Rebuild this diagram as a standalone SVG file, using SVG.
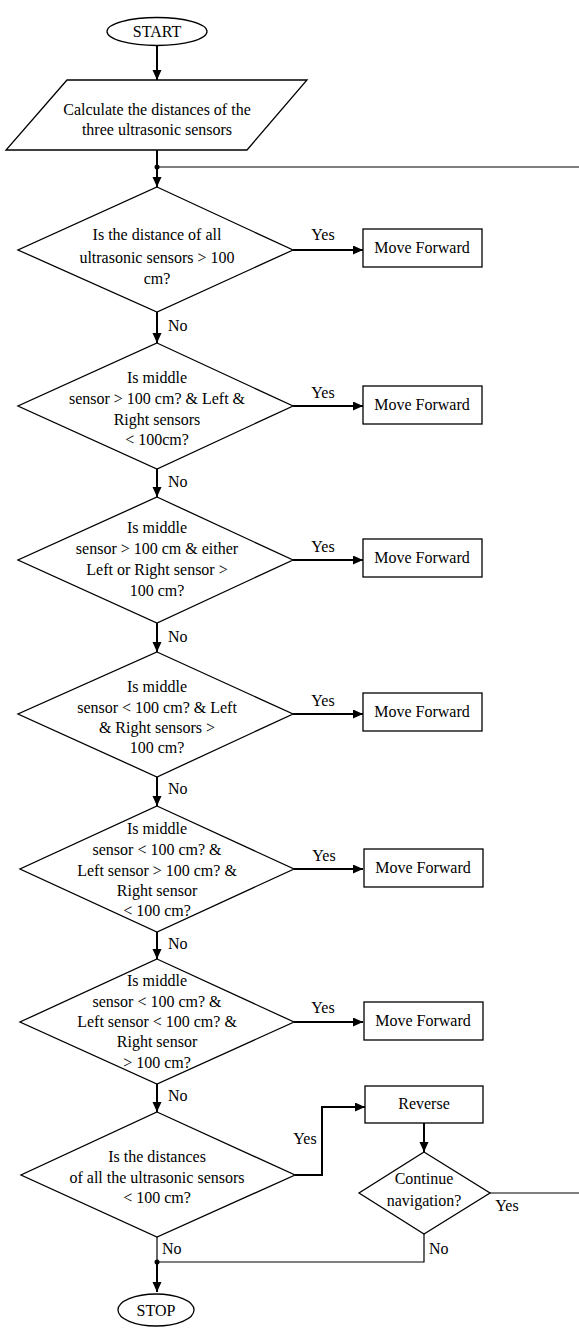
<svg xmlns="http://www.w3.org/2000/svg" width="579" height="1328" viewBox="0 0 579 1328">
<style>
.s{fill:#fff;stroke:#000;stroke-width:1.3}
.t{font-family:"Liberation Serif","Times New Roman",serif;font-size:16px;fill:#000;text-anchor:middle}
.l{font-family:"Liberation Serif","Times New Roman",serif;font-size:16px;fill:#000}
.a{fill:none;stroke:#000;stroke-width:2;marker-end:url(#ah)}
.n{fill:none;stroke:#000;stroke-width:1.2}
</style>
<defs>
<marker id="ah" markerUnits="userSpaceOnUse" markerWidth="11" markerHeight="10" refX="10" refY="4.5" orient="auto">
<path d="M0,0 L10,4.5 L0,9 z" fill="#000"/>
</marker>
</defs>
<rect width="579" height="1328" fill="#fff"/>
<g id="connectors">
<line class="a" x1="157" y1="46" x2="157" y2="80"/>
<line class="a" x1="157" y1="150" x2="157" y2="187"/>
<line class="n" x1="157" y1="167" x2="579" y2="167"/>
<circle cx="157" cy="167" r="2.5" fill="#000"/>
<line class="a" x1="293" y1="250" x2="363" y2="250"/>
<line class="a" x1="157" y1="312" x2="157" y2="343"/>
<line class="a" x1="293" y1="406" x2="363" y2="406"/>
<line class="a" x1="157" y1="469" x2="157" y2="497"/>
<line class="a" x1="293" y1="560" x2="363" y2="560"/>
<line class="a" x1="157" y1="623" x2="157" y2="652"/>
<line class="a" x1="293" y1="714" x2="363" y2="714"/>
<line class="a" x1="157" y1="777" x2="157" y2="806"/>
<line class="a" x1="294" y1="869" x2="363" y2="869"/>
<line class="a" x1="157" y1="932" x2="157" y2="959"/>
<line class="a" x1="294" y1="1022" x2="363" y2="1022"/>
<line class="a" x1="157" y1="1084" x2="157" y2="1112"/>
<polyline class="a" points="295,1175 322,1175 322,1107 365,1107"/>
<line class="a" x1="424" y1="1123" x2="424" y2="1152"/>
<line class="n" x1="490" y1="1193" x2="579" y2="1193"/>
<polyline class="n" points="424,1234 424,1262 157,1262"/>
<line class="n" x1="157" y1="1237" x2="157" y2="1262"/>
<line class="a" x1="157" y1="1262" x2="157" y2="1292"/>
<circle cx="157" cy="1262" r="2.5" fill="#000"/>
<text class="t" x="323" y="240">Yes</text>
<text class="t" x="323" y="398">Yes</text>
<text class="t" x="323" y="552">Yes</text>
<text class="t" x="323" y="706">Yes</text>
<text class="t" x="324" y="861">Yes</text>
<text class="t" x="323" y="1013">Yes</text>
<text class="t" x="305" y="1144">Yes</text>
<text class="t" x="507" y="1211">Yes</text>
<text class="l" x="168" y="331">No</text>
<text class="l" x="168" y="487">No</text>
<text class="l" x="168" y="642">No</text>
<text class="l" x="168" y="794">No</text>
<text class="l" x="168" y="949">No</text>
<text class="l" x="168" y="1101">No</text>
<text class="l" x="162" y="1254">No</text>
<text class="l" x="429" y="1254">No</text>
</g>
<g id="start">
<ellipse class="s" cx="157" cy="31.5" rx="50" ry="14"/>
<text class="t" x="157" y="37">START</text>
</g>
<g id="calc">
<polygon class="s" points="67,80 307,80 247,150 6,150"/>
<text class="t" x="157" y="115">Calculate the distances of the</text>
<text class="t" x="157" y="135">three ultrasonic sensors</text>
</g>
<g id="d1">
<polygon class="s" points="157,187 293,250 157,312 18,250"/>
<text class="t" x="157" y="240">Is the distance of all</text>
<text class="t" x="157" y="263">ultrasonic sensors &gt; 100</text>
<text class="t" x="157" y="284">cm?</text>
</g>
<g id="b1"><rect class="s" x="363" y="229" width="119" height="38"/><text class="t" x="422" y="253">Move Forward</text></g>
<g id="d2">
<polygon class="s" points="157,343 293,406 157,469 18,406"/>
<text class="t" x="157" y="383">Is middle</text>
<text class="t" x="157" y="404">sensor &gt; 100 cm? &amp; Left &amp;</text>
<text class="t" x="157" y="425">Right sensors</text>
<text class="t" x="157" y="445">&lt; 100cm?</text>
</g>
<g id="b2"><rect class="s" x="363" y="386" width="119" height="38"/><text class="t" x="422" y="410">Move Forward</text></g>
<g id="d3">
<polygon class="s" points="157,497 293,560 157,623 18,560"/>
<text class="t" x="157" y="533">Is middle</text>
<text class="t" x="157" y="554">sensor &gt; 100 cm &amp; either</text>
<text class="t" x="157" y="575">Left or Right sensor &gt;</text>
<text class="t" x="157" y="596">100 cm?</text>
</g>
<g id="b3"><rect class="s" x="363" y="539" width="119" height="38"/><text class="t" x="422" y="563">Move Forward</text></g>
<g id="d4">
<polygon class="s" points="157,652 293,714 157,777 18,714"/>
<text class="t" x="157" y="692">Is middle</text>
<text class="t" x="157" y="713">sensor &lt; 100 cm? &amp; Left</text>
<text class="t" x="157" y="733">&amp; Right sensors &gt;</text>
<text class="t" x="157" y="753">100 cm?</text>
</g>
<g id="b4"><rect class="s" x="363" y="693" width="119" height="38"/><text class="t" x="422" y="717">Move Forward</text></g>
<g id="d5">
<polygon class="s" points="157,806 294,869 157,932 20,869"/>
<text class="t" x="157" y="834">Is middle</text>
<text class="t" x="157" y="855">sensor &lt; 100 cm? &amp;</text>
<text class="t" x="157" y="876">Left sensor &gt; 100 cm? &amp;</text>
<text class="t" x="157" y="896">Right sensor</text>
<text class="t" x="157" y="916">&lt; 100 cm?</text>
</g>
<g id="b5"><rect class="s" x="364" y="849" width="119" height="38"/><text class="t" x="423" y="873">Move Forward</text></g>
<g id="d6">
<polygon class="s" points="157,959 294,1022 157,1084 20,1022"/>
<text class="t" x="157" y="986">Is middle</text>
<text class="t" x="157" y="1007">sensor &lt; 100 cm? &amp;</text>
<text class="t" x="157" y="1027">Left sensor &lt; 100 cm? &amp;</text>
<text class="t" x="157" y="1047">Right sensor</text>
<text class="t" x="157" y="1068">&gt; 100 cm?</text>
</g>
<g id="b6"><rect class="s" x="364" y="1002" width="119" height="38"/><text class="t" x="423" y="1026">Move Forward</text></g>
<g id="d7">
<polygon class="s" points="157,1112 295,1175 157,1237 21,1175"/>
<text class="t" x="157" y="1162">Is the distances</text>
<text class="t" x="157" y="1183">of all the ultrasonic sensors</text>
<text class="t" x="157" y="1203">&lt; 100 cm?</text>
</g>
<g id="reverse"><rect class="s" x="365" y="1086" width="118" height="37"/><text class="t" x="424" y="1109">Reverse</text></g>
<g id="continue">
<polygon class="s" points="424,1152 490,1193 424,1234 359,1193"/>
<text class="t" x="424" y="1184">Continue</text>
<text class="t" x="424" y="1206">navigation?</text>
</g>
<g id="stop">
<ellipse class="s" cx="156" cy="1310" rx="38" ry="16"/>
<text class="t" x="156" y="1316">STOP</text>
</g>
</svg>
